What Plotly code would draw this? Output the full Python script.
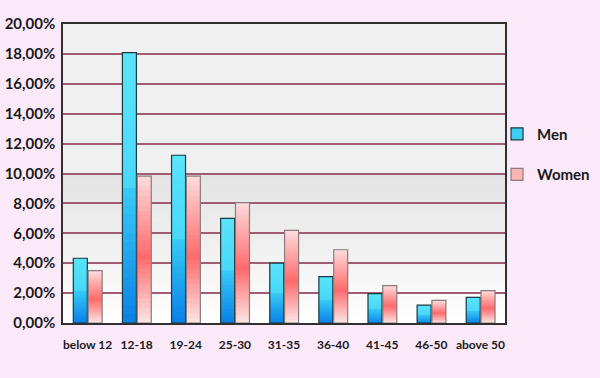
import plotly.graph_objects as go

categories = ["below 12", "12-18", "19-24", "25-30", "31-35", "36-40", "41-45", "46-50", "above 50"]
men = [4.33, 18.08, 11.22, 7.0, 4.0, 3.1, 1.97, 1.2, 1.72]
women = [3.5, 9.82, 9.82, 8.05, 6.2, 4.9, 2.5, 1.52, 2.16]
y_ticks = [0, 2, 4, 6, 8, 10, 12, 14, 16, 18, 20]
y_tick_text = ["%.2f%%" % v for v in y_ticks]
y_tick_text = [s.replace(".", ",") for s in y_tick_text]

FONT = "Lato, Noto Sans, sans-serif"
N = 30


def lerp(c1, c2, t):
    return tuple(round(a + (b - a) * t) for a, b in zip(c1, c2))


def rgb(c):
    return "rgb(%d,%d,%d)" % c


def men_color(t):
    if t >= 0.5:
        return rgb(lerp((0x48, 0xd8, 0xf8), (0x5a, 0xe4, 0xfa), (t - 0.5) / 0.5))
    return rgb(lerp((0x08, 0x80, 0xe8), (0x38, 0xcc, 0xf6), t / 0.5))


def women_color(t):
    c = 0.45
    red = (0xff, 0x6a, 0x6c)
    if t < c:
        return rgb(lerp((0xfc, 0xe6, 0xe6), red, t / c))
    return rgb(lerp(red, (0xfd, 0xdc, 0xdc), (t - c) / (1 - c)))


fig = go.Figure()

# background gradient in plot area
bands = [
    (10, 20, (0xf0, 0xf0, 0xf0), (0xf0, 0xf0, 0xf0)),
    (8, 10, (0xe8, 0xe8, 0xe8), (0xe4, 0xe4, 0xe4)),
    (0, 8, (0xff, 0xff, 0xff), (0xe8, 0xe8, 0xe8)),
]
shapes = []
for lo, hi, c_lo, c_hi in bands:
    steps = 16
    for i in range(steps):
        y0 = lo + (hi - lo) * i / steps
        y1 = lo + (hi - lo) * (i + 1.3) / steps
        y1 = min(y1, hi)
        col = rgb(lerp(c_lo, c_hi, (i + 0.5) / steps))
        shapes.append(dict(type="rect", xref="x domain", yref="y", x0=0, x1=1,
                           y0=y0, y1=y1, fillcolor=col, line=dict(width=0), layer="below"))

W = 0.285
OFF_M = -0.29
OFF_W = 0.012

for series, off, colfn in ((men, OFF_M, men_color), (women, OFF_W, women_color)):
    for k in range(N):
        t = (k + 0.5) / N
        bases = [v * k / N for v in series]
        tops = [min(v * (k + 2) / N, v) for v in series]
        fig.add_trace(go.Bar(
            x=categories,
            y=[tp - b for tp, b in zip(tops, bases)],
            base=bases,
            offset=off, width=W,
            marker=dict(color=colfn(t), line=dict(width=0)),
            showlegend=False, hoverinfo="skip",
        ))

# outlines
fig.add_trace(go.Bar(x=categories, y=men, offset=OFF_M, width=W,
                     marker=dict(color="rgba(0,0,0,0)", line=dict(color="#1c3a44", width=1.2)),
                     showlegend=False))
fig.add_trace(go.Bar(x=categories, y=women, offset=OFF_W, width=W,
                     marker=dict(color="rgba(0,0,0,0)", line=dict(color="#8a7c7c", width=1.2)),
                     showlegend=False))

# legend entries
fig.add_trace(go.Bar(x=categories, y=[None] * len(categories), name="Men", legendgroup="m",
                     marker=dict(color="#3fcdf5", line=dict(color="#1c3a44", width=1.2))))
fig.add_trace(go.Bar(x=categories, y=[None] * len(categories), name="Women", legendgroup="w",
                     marker=dict(color="#f9b4b4", line=dict(color="#8a7c7c", width=1.2))))

fig.update_layout(
    width=600, height=378,
    barmode="overlay",
    paper_bgcolor="#fbe9f9",
    plot_bgcolor="#ffffff",
    margin=dict(l=63, r=95, t=24, b=55, autoexpand=False),
    shapes=shapes,
    font=dict(family=FONT, color="#1a1a1a"),
    legend=dict(x=0.982, y=0.687, xanchor="left", yanchor="top",
                bgcolor="rgba(0,0,0,0)", tracegroupgap=18, traceorder="grouped",
                font=dict(family=FONT, size=15, weight="bold", color="#1a1a1a"),
                itemwidth=30),
    xaxis=dict(type="category", categoryorder="array", categoryarray=categories,
               showgrid=False, showline=True, linecolor="#303030", linewidth=1.5, mirror=True,
               ticks="outside", ticklen=10, tickcolor="rgba(0,0,0,0)", tickangle=0,
               tickfont=dict(family=FONT, size=12, weight="bold", color="#1a1a1a"),
               range=[-0.5, 8.5], automargin=False),
    yaxis=dict(range=[0, 20], tickvals=y_ticks, ticktext=y_tick_text,
               showgrid=True, gridcolor="#a05c70", gridwidth=1.5,
               showline=True, linecolor="#303030", linewidth=1.5, mirror=True,
               ticks="outside", ticklen=3, tickcolor="rgba(0,0,0,0)",
               tickfont=dict(family=FONT, size=15, weight="bold", color="#1a1a1a"),
               zeroline=False, automargin=False),
)

fig.write_html("out.html", config={"displayModeBar": False},
               post_script="document.body.style.margin='0';document.body.style.background='#fbe9f9';")
